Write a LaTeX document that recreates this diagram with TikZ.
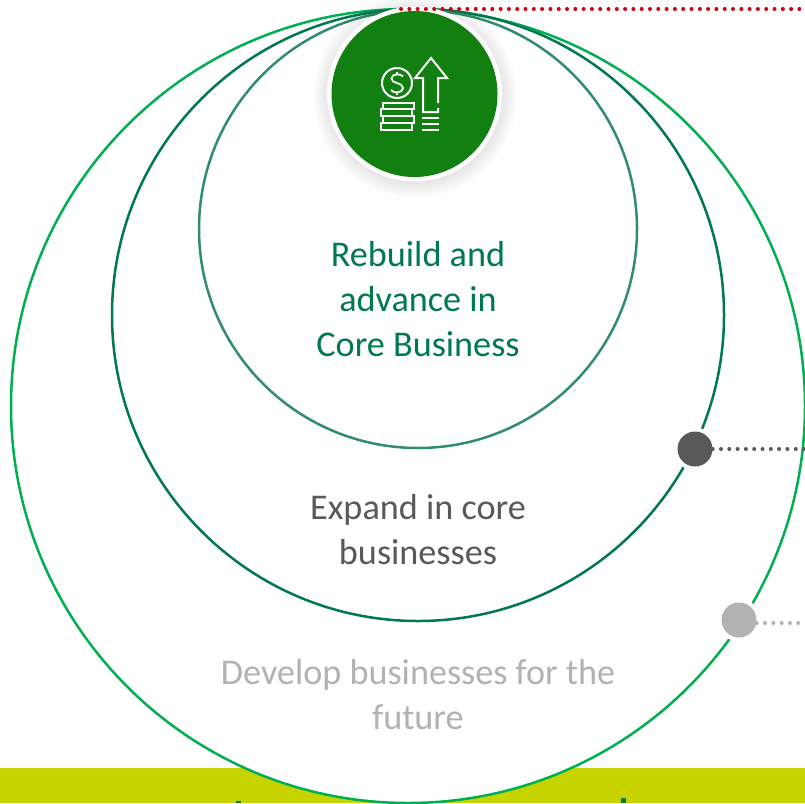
\documentclass[tikz,border=0pt]{standalone}
\usepackage{fontspec}
\setmainfont{Carlito}
\definecolor{outerg}{HTML}{00B050}
\definecolor{midg}{HTML}{007A4D}
\definecolor{inng}{HTML}{328C6E}
\definecolor{iconbg}{HTML}{118011}
\definecolor{band}{HTML}{C8D400}
\definecolor{darkdot}{HTML}{595959}
\definecolor{lightdot}{HTML}{B2B2B2}
\definecolor{reddot}{HTML}{D00010}
\tikzset{
  x=1pt,y=-1pt,
  ring/.style={draw,line width=2.5pt,fill=none},
  lbl/.style={align=center,font=\fontsize{36.2}{45}\selectfont,inner sep=0pt},
  dots/.style={line width=4pt,line cap=round,dash pattern=on 0pt off 8.3pt},
  ico/.style={draw=white,line width=2pt},
  hub/.style={circle,inner sep=0pt,minimum size=35pt,fill=#1}
}
\begin{document}
\begin{tikzpicture}
\useasboundingbox (0,0) rectangle (805,803);
\clip (0,0) rectangle (805,803);
\fill[white] (0,0) rectangle (805,803);
\fill[band] (0,768) rectangle (805,803);
\fill[midg] (236,801) rectangle (241,803);
\fill[midg] (621,798) rectangle (626,803);
\fill[white] (408,406) circle[radius=397];
\draw[ring,outerg] (408,406) circle[radius=397];
\draw[ring,midg] (418,315) circle[radius=306];
\draw[ring,inng] (418,229) circle[radius=219];
% soft shadow of the badge
\foreach \r in {102,100,...,86}{\fill[black,opacity=0.012] (415,96) circle[radius=\r];}
\node[circle,fill=white,inner sep=0pt,minimum size=175pt] (badge) at (414.5,94) {};
\node[circle,fill=iconbg,inner sep=0pt,minimum size=166pt] (core) at (414.5,94) {};
% icon
\draw[ico] (397,83) circle[radius=15];
\draw[ico,line width=1.8pt] (403,76.5) .. controls (401,73.5) and (392,73) .. (391.5,78.5) .. controls (391,84) and (403,82) .. (403,88) .. controls (403,93.5) and (393,93.5) .. (391,90);
\draw[ico,line width=1.8pt] (397,71.5) -- (397,74.5) (397,92) -- (397,95);
\draw[ico,line join=miter] (438,103) -- (438,78) -- (447,78) -- (431,58) -- (415,78) -- (423,78) -- (423,112) -- (438,112) -- (438,108);
\draw[ico] (422,118) -- (439,118) (422,124) -- (439,124) (422,129.5) -- (439,129.5);
\draw[ico] (383,102.5) rectangle (414,109) (381,109) rectangle (412,116) (383,116) rectangle (414,123) (381,123) rectangle (412,130);
% red dotted line
\coordinate (redend) at (805,9);
\draw[dots,reddot] (401,9) -- (redend);
% labels
\node[lbl,text=midg] (core label) at (418,299) {Rebuild and\\advance in\\Core Business};
\node[lbl,text=darkdot] (expand) at (418,530) {Expand in core\\businesses};
\node[lbl,text=lightdot] (develop) at (418,695) {Develop businesses for the\\future};
% hubs
\node[circle,fill=white,inner sep=0pt,minimum size=43pt] (darkhalo) at (695,449) {};
\node[hub=darkdot] (darkhub) at (695,449) {};
\node[circle,fill=white,inner sep=0pt,minimum size=43pt] (lighthalo) at (739,620) {};
\node[hub=lightdot] (lighthub) at (739,620) {};
\coordinate (darkend) at (805,449);
\coordinate (lightend) at (805,623);
\draw[dots,darkdot] (darkhub.east) -- (darkend);
\draw[dots,lightdot] (lighthub.east |- lightend) -- (lightend);
\end{tikzpicture}
\end{document}
